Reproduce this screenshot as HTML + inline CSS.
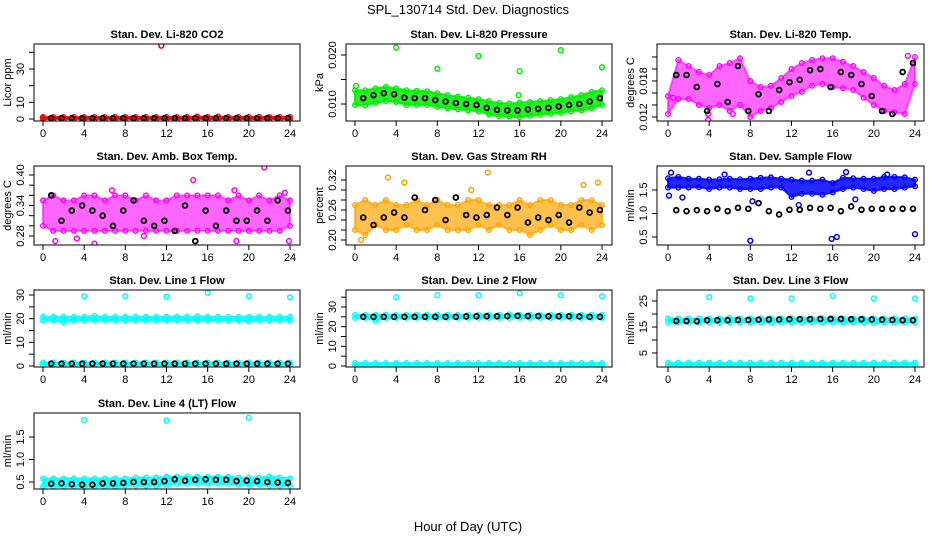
<!DOCTYPE html>
<html><head><meta charset="utf-8"><style>
body{margin:0;background:#fff;}
svg{display:block;font-family:"Liberation Sans",Arial,sans-serif;}
</style></head><body>
<svg id="c" width="936" height="540" viewBox="0 0 936 540">
<text x="468" y="14" font-size="13" text-anchor="middle">SPL_130714  Std. Dev. Diagnostics</text>
<text x="468" y="531" font-size="13" text-anchor="middle">Hour of Day (UTC)</text>
</svg>
<script>
const hrs=[0,1,2,3,4,5,6,7,8,9,10,11,12,13,14,15,16,17,18,19,20,21,22,23,24];
const xTicks=[0,4,8,12,16,20,24];
// P1 CO2
const co2Hi=[1.2,1.2,1.2,1.2,1.2,1.2,1.2,1.2,1.2,1.2,1.2,1.2,1.2,1.2,1.2,1.5,1.2,1.5,1.2,1.2,1.2,1.3,1.2,1.2,1.2];
const co2Lo=[0,0,0,0,0,0,0,0,0,0,0,0,0,0,0,0,0,0,0,0,0,0,0,0,0];
const co2Blk=[0.5,0.5,0.5,0.5,0.5,0.5,0.5,0.5,0.5,0.5,0.5,0.5,0.5,0.5,0.5,0.5,0.5,0.5,0.5,0.5,0.5,0.5,0.5,0.5,0.5];
const co2OutX=[11.5,0];const co2OutY=[44,0.8];
// P2 Pressure
const prHi=[0.0128,0.0128,0.0132,0.0135,0.0132,0.0128,0.0127,0.0126,0.0122,0.0118,0.0115,0.0113,0.0110,0.0106,0.0102,0.0101,0.0103,0.0104,0.0106,0.0108,0.0110,0.0114,0.0118,0.0125,0.0128];
const prLo=[0.0098,0.0097,0.0102,0.0106,0.0104,0.0098,0.0098,0.0098,0.0094,0.0091,0.0089,0.0087,0.0085,0.0079,0.0075,0.0074,0.0073,0.0076,0.0078,0.0080,0.0082,0.0085,0.0087,0.0091,0.0098];
const prBlk=[0.0115,0.0112,0.0118,0.0122,0.0120,0.0113,0.0112,0.0112,0.0108,0.0105,0.0102,0.0100,0.0098,0.0092,0.0088,0.0087,0.0087,0.0089,0.0090,0.0092,0.0095,0.0098,0.0100,0.0105,0.0112];
const prOutX=[0.1,4,8,12,16,15.9,20,24];const prOutY=[0.0137,0.0215,0.0172,0.0198,0.0167,0.0118,0.0210,0.0175];
// P3 Li-820 temp
const tHi=[0.0155,0.0215,0.0205,0.0195,0.0190,0.0205,0.0210,0.0218,0.0180,0.0170,0.0172,0.0185,0.0200,0.0210,0.0215,0.0218,0.0218,0.0212,0.0205,0.0195,0.0185,0.0172,0.0165,0.0175,0.0220];
const tLo=[0.0125,0.0150,0.0150,0.0140,0.0135,0.0140,0.0130,0.0140,0.0120,0.0130,0.0135,0.0145,0.0155,0.0162,0.0172,0.0175,0.0170,0.0168,0.0165,0.0152,0.0140,0.0130,0.0128,0.0125,0.0175];
const tBlk=[0.0178,0.0190,0.0190,0.0170,0.0130,0.0175,0.0145,0.0205,0.0130,0.0158,0.0130,0.0165,0.0178,0.0182,0.0198,0.0200,0.0170,0.0195,0.0190,0.0175,0.0155,0.0130,0.0125,0.0195,0.0210];
const tOutX=[3.9,3.9,21,0.5,6.3,23.3];const tOutY=[0.0115,0.0125,0.0130,0.0152,0.0125,0.0222];
// P4 Amb box temp
const aHi=[0.35,0.36,0.35,0.35,0.36,0.36,0.35,0.36,0.36,0.35,0.36,0.35,0.35,0.36,0.36,0.36,0.36,0.36,0.35,0.36,0.35,0.36,0.35,0.36,0.35];
const aLo=[0.30,0.29,0.29,0.29,0.29,0.29,0.29,0.29,0.29,0.29,0.29,0.29,0.29,0.29,0.29,0.29,0.29,0.29,0.29,0.29,0.29,0.29,0.29,0.29,0.30];
const aBlk=[0.27,0.36,0.31,0.33,0.34,0.33,0.32,0.30,0.33,0.35,0.31,0.30,0.31,0.29,0.34,0.27,0.33,0.30,0.33,0.31,0.31,0.33,0.31,0.35,0.33];
const aOutX=[1.2,3.3,5,6.7,14.6,18.6,21.5,23.5,23.9,18.8,9.8];const aOutY=[0.27,0.275,0.265,0.37,0.39,0.37,0.415,0.365,0.27,0.27,0.28];
// P5 RH
const rhHi=[0.27,0.28,0.27,0.28,0.27,0.27,0.28,0.27,0.28,0.27,0.27,0.28,0.28,0.27,0.27,0.27,0.28,0.27,0.28,0.28,0.27,0.27,0.28,0.28,0.27];
const rhLo=[0.22,0.21,0.23,0.22,0.22,0.23,0.22,0.22,0.23,0.22,0.22,0.22,0.23,0.22,0.23,0.22,0.22,0.21,0.22,0.23,0.22,0.22,0.23,0.22,0.23];
const rhBlk=[0.24,0.245,0.23,0.245,0.255,0.245,0.285,0.26,0.28,0.24,0.285,0.25,0.245,0.25,0.265,0.25,0.265,0.235,0.245,0.24,0.25,0.235,0.265,0.255,0.26];
const rhOutX=[3.2,4.8,12.9,11.3,22.2,23.6,0.6];const rhOutY=[0.325,0.315,0.335,0.30,0.31,0.315,0.20];
// P6 Sample flow
const sfHi=[1.75,1.78,1.74,1.74,1.72,1.73,1.74,1.73,1.74,1.76,1.77,1.74,1.72,1.70,1.70,1.72,1.65,1.76,1.75,1.74,1.74,1.78,1.78,1.77,1.72];
const sfLo=[1.55,1.55,1.55,1.56,1.52,1.55,1.55,1.52,1.52,1.52,1.55,1.55,1.35,1.42,1.42,1.40,1.45,1.52,1.55,1.52,1.48,1.52,1.52,1.55,1.58];
const sfBlk=[1.08,1.07,1.05,1.07,1.05,1.10,1.05,1.12,1.10,1.22,1.05,0.98,1.08,1.08,1.12,1.10,1.12,1.05,1.15,1.08,1.10,1.10,1.10,1.10,1.10];
const sfOutX=[0.1,0.3,1.4,5.5,8,8.2,12.7,13.7,15.9,16.4,17.3,18.2,24,21.3];const sfOutY=[1.38,1.87,1.34,1.83,0.42,1.26,1.18,1.87,0.46,0.50,1.88,1.30,0.56,1.83];
// P7 Line1
const l1Hi=[20.8,20.8,20.8,20.8,20.8,21.2,20.8,20.8,20.8,20.8,20.8,20.8,20.8,20.8,20.8,21,20.8,20.8,20.8,20.8,20.8,20.8,20.8,20.8,20.8];
const l1Lo=[19.2,19.2,18.5,19.2,19.2,19.2,19.2,19.2,19.2,19.2,19.2,19.2,19.2,19.2,19.2,19.2,19.2,19.2,19.2,19.2,18.8,19.2,19.2,19.2,19.2];
const l1LowHi=[1.5,1.5,1.5,1.5,1.5,1.5,1.5,1.5,1.5,1.5,1.5,1.5,1.5,1.5,1.5,1.5,1.5,1.5,1.5,1.5,1.5,1.5,1.5,1.5,1.5];
const l1LowLo=[0.5,0.5,0.5,0.5,0.5,0.5,0.5,0.5,0.5,0.5,0.5,0.5,0.5,0.5,0.5,0.5,0.5,0.5,0.5,0.5,0.5,0.5,0.5,0.5,0.5];
const l1Blk=[1,1,1,1,1,1,1,1,1,1,1,1,1,1,1,1,1,1,1,1,1,1,1,1,1];
const l1OutX=[4,8,12,16,20,24];const l1OutY=[29.5,29.5,29.3,31,29.5,29];
// P8 Line2
const l2Hi=[26,26,26,26,26,26,26,26,26,26,26,26,26,26,26,26.3,26,26,26,26,26,26,26,26,26];
const l2Lo=[24.5,24.5,23,24.5,24.5,24.5,24.5,24.5,24.5,24.5,24.5,24.5,24.5,24.5,24.5,24.5,24.5,24.5,24.5,24.5,24.5,24.5,24.5,24.5,24.5];
const l2LowHi=[1.5,1.5,1.5,1.5,1.5,1.5,1.5,1.5,1.5,1.5,1.5,1.5,1.5,1.5,1.5,1.5,1.5,1.5,1.5,1.5,1.5,1.5,1.5,1.5,1.5];
const l2LowLo=[0.3,0.3,0.3,0.3,0.3,0.3,0.3,0.3,0.3,0.3,0.3,0.3,0.3,0.3,0.3,0.3,0.3,0.3,0.3,0.3,0.3,0.3,0.3,0.3,0.3];
const l2Blk=[25,25,25,25,25,25,25,25,25,25,25,25.2,25.3,25.3,25.3,25.4,25.5,25.4,25.4,25.3,25.3,25.3,25.2,25,25];
const l2OutX=[4,8,12,16,20,24];const l2OutY=[35,36,36,37,36,35.5];
// P9 Line3
const l3Hi=[18.3,18.3,18.3,18.3,18.3,18.3,18.6,18.3,18.3,18.3,18.3,18.3,18.3,18.3,18.3,18.3,18.3,18.3,18.3,18.3,18.3,18.3,18.3,18.3,18.3];
const l3Lo=[16.8,16.8,16.8,16.8,16.8,16.8,16.8,16.8,16.8,16.8,16.8,16.8,16.8,16.8,16.8,16.8,16.8,16.8,16.8,16.8,16.5,16.8,16.8,16.8,16.8];
const l3LowHi=[1.3,1.3,1.3,1.3,1.3,1.3,1.3,1.3,1.3,1.3,1.3,1.3,1.3,1.3,1.3,1.3,1.3,1.3,1.3,1.3,1.3,1.3,1.3,1.3,1.3];
const l3LowLo=[0.3,0.3,0.3,0.3,0.3,0.3,0.3,0.3,0.3,0.3,0.3,0.3,0.3,0.3,0.3,0.3,0.3,0.3,0.3,0.3,0.3,0.3,0.3,0.3,0.3];
const l3Blk=[17.3,17.3,17.3,17.2,17.6,17.6,17.6,17.7,17.7,17.8,17.9,17.9,18,18,18,18.1,18.1,18.1,18,18,17.9,17.8,17.7,17.6,17.6];
const l3OutX=[4,8,12,16,20,24];const l3OutY=[26.5,26,26,27,26,26];
// P10 Line4
const l4Hi=[0.58,0.58,0.58,0.58,0.58,0.58,0.58,0.58,0.58,0.60,0.60,0.60,0.62,0.62,0.62,0.62,0.62,0.62,0.62,0.60,0.60,0.60,0.62,0.60,0.58];
const l4Lo=[0.40,0.40,0.40,0.40,0.40,0.40,0.40,0.40,0.42,0.42,0.42,0.42,0.44,0.46,0.46,0.46,0.46,0.46,0.46,0.44,0.44,0.44,0.42,0.42,0.42];
const l4Blk=[0.45,0.46,0.47,0.45,0.44,0.44,0.47,0.47,0.48,0.50,0.50,0.50,0.52,0.56,0.53,0.55,0.56,0.55,0.55,0.52,0.53,0.52,0.50,0.49,0.48];
const l4OutX=[4,12,20];const l4OutY=[1.88,1.87,1.93];

const NS="http://www.w3.org/2000/svg";
const svg=document.getElementById('c');
function mk(tag,attrs,parent){const e=document.createElementNS(NS,tag);for(const k in attrs)e.setAttribute(k,attrs[k]);(parent||svg).appendChild(e);return e;}
const cols=[{l:34,r:300,x0:43,x24:290},{l:346,r:612,x0:355,x24:602},{l:657,r:924,x0:668,x24:915}];
const rows=[{t:44,b:121},{t:166,b:245},{t:290,b:367},{t:413,b:489}];

function panel(o){
  const c=cols[o.col],rw=rows[o.row];
  const g=mk('g',{});
  
  
  const X=h=>c.x0+(h/24)*(c.x24-c.x0);
  const Y=v=>o.py0+(v-o.v0)/(o.v1-o.v0)*(o.py1-o.py0);
  const clipId='clip'+o.name;
  const cp=mk('clipPath',{id:clipId},g);mk('rect',{x:c.l,y:rw.t,width:c.r-c.l,height:rw.b-rw.t},cp);
  const data=mk('g',{'clip-path':'url(#'+clipId+')'},g);
  const op=o.op||0.85;
  function band(hi,lo,col,nm){
    let pts=hrs.map((h,i)=>X(h)+','+Y(hi[i]));
    for(let i=hrs.length-1;i>=0;i--)pts.push(X(hrs[i])+','+Y(lo[i]));
    const p=mk('polygon',{points:pts.join(' '),fill:col,'fill-opacity':op,stroke:col,'stroke-opacity':op,'stroke-width':2,'stroke-linejoin':'round'},data);
    
    
    hrs.forEach((h,i)=>{[hi[i],lo[i]].forEach(v=>{
      const e=mk('circle',{cx:X(h),cy:Y(v),r:2.3,fill:'none',stroke:col,'stroke-width':1.4},data);
      
      
    });});
  }
  function pts(xs,ys,col,nm,sw){
    xs.forEach((h,i)=>{
      const e=mk('circle',{cx:X(h),cy:Y(ys[i]),r:2.4,fill:'none',stroke:col,'stroke-width':sw},data);
      
      
    });
  }
  o.bands.forEach(b=>band(b[0],b[1],o.color,'colored'));
  pts(o.outX,o.outY,o.color,'outlier-point',1.5);
  pts(hrs.slice(1).map(h=>h-0.2),o.blk.slice(1),'#000','hourly-mean-point',1.8);
  const bx=mk('rect',{x:c.l,y:rw.t,width:c.r-c.l,height:rw.b-rw.t,fill:'none',stroke:'#000','stroke-width':1},g);
  
  
  xTicks.forEach(t=>{
    mk('line',{x1:X(t),x2:X(t),y1:rw.b,y2:rw.b+5,stroke:'#000'},g);
    const tx=mk('text',{x:X(t),y:rw.b+16,'font-size':11,'text-anchor':'middle'},g);
    tx.textContent=t;
    
    
  });
  o.yt.forEach(t=>{
    mk('line',{x1:c.l-5,x2:c.l,y1:Y(t),y2:Y(t),stroke:'#000'},g);
  });
  o.yl.forEach(t=>{
    const tx=mk('text',{x:0,y:0,'font-size':11,'text-anchor':'middle',transform:'translate('+(c.l-10)+','+Y(t)+') rotate(-90)'},g);
    tx.textContent=t;
    
    
  });
  const yt=mk('text',{x:0,y:0,'font-size':11,'text-anchor':'middle',transform:'translate('+(c.l-23)+','+((rw.t+rw.b)/2)+') rotate(-90)'},g);
  yt.textContent=o.ylab;
  
  
  const ti=mk('text',{x:(c.l+c.r)/2,y:rw.t-6,'font-size':11,'font-weight':'bold','text-anchor':'middle'},g);
  ti.textContent=o.title;
  
  
}

panel({name:'co2-panel',col:0,row:0,title:'Stan. Dev. Li-820 CO2',ylab:'Licor ppm',color:'#ff0000',v0:0,v1:30,py0:119,py1:69,yt:[0,10,20,30,40],yl:['0','10','30'],bands:[[co2Hi,co2Lo]],blk:co2Blk,outX:co2OutX,outY:co2OutY});
panel({name:'pressure-panel',col:1,row:0,title:'Stan. Dev. Li-820 Pressure',ylab:'kPa',color:'#00ee00',v0:0.010,v1:0.020,py0:104,py1:55,yt:[0.010,0.015,0.020],yl:['0.010','0.020'],bands:[[prHi,prLo]],blk:prBlk,outX:prOutX,outY:prOutY});
panel({name:'licor-temp-panel',col:2,row:0,title:'Stan. Dev. Li-820 Temp.',ylab:'degrees C',color:'#ff00ff',op:0.6,v0:0.012,v1:0.018,py0:117,py1:81,yt:[0.012,0.014,0.016,0.018,0.020,0.022],yl:['0.012','0.018'],bands:[[tHi,tLo]],blk:tBlk,outX:tOutX,outY:tOutY});
panel({name:'amb-box-temp-panel',col:0,row:1,title:'Stan. Dev. Amb. Box Temp.',ylab:'degrees C',color:'#ff00ff',op:0.6,v0:0.28,v1:0.40,py0:236,py1:175,yt:[0.28,0.30,0.32,0.34,0.36,0.38,0.40],yl:['0.28','0.34','0.40'],bands:[[aHi,aLo]],blk:aBlk,outX:aOutX,outY:aOutY});
panel({name:'gas-rh-panel',col:1,row:1,title:'Stan. Dev. Gas Stream RH',ylab:'percent',color:'#ffa500',op:0.7,v0:0.20,v1:0.32,py0:240,py1:180,yt:[0.20,0.22,0.24,0.26,0.28,0.30,0.32],yl:['0.20','0.26','0.32'],bands:[[rhHi,rhLo]],blk:rhBlk,outX:rhOutX,outY:rhOutY});
panel({name:'sample-flow-panel',col:2,row:1,title:'Stan. Dev. Sample Flow',ylab:'ml/min',color:'#0000ff',v0:0.5,v1:1.5,py0:237,py1:190,yt:[0.5,1.0,1.5],yl:['0.5','1.0','1.5'],bands:[[sfHi,sfLo]],blk:sfBlk,outX:sfOutX,outY:sfOutY});
panel({name:'line1-flow-panel',col:0,row:2,title:'Stan. Dev. Line 1 Flow',ylab:'ml/min',color:'#00ffff',v0:0,v1:30,py0:366,py1:295,yt:[0,5,10,15,20,25,30],yl:['0','10','20','30'],bands:[[l1Hi,l1Lo],[l1LowHi,l1LowLo]],blk:l1Blk,outX:l1OutX,outY:l1OutY});
panel({name:'line2-flow-panel',col:1,row:2,title:'Stan. Dev. Line 2 Flow',ylab:'ml/min',color:'#00ffff',v0:0,v1:30,py0:366,py1:307,yt:[0,5,10,15,20,25,30,35],yl:['0','10','20','30'],bands:[[l2Hi,l2Lo],[l2LowHi,l2LowLo]],blk:l2Blk,outX:l2OutX,outY:l2OutY});
panel({name:'line3-flow-panel',col:2,row:2,title:'Stan. Dev. Line 3 Flow',ylab:'ml/min',color:'#00ffff',v0:5,v1:25,py0:353,py1:301,yt:[5,10,15,20,25],yl:['5','15','25'],bands:[[l3Hi,l3Lo],[l3LowHi,l3LowLo]],blk:l3Blk,outX:l3OutX,outY:l3OutY});
panel({name:'line4-flow-panel',col:0,row:3,title:'Stan. Dev. Line 4 (LT) Flow',ylab:'ml/min',color:'#00ffff',v0:0.5,v1:1.5,py0:482,py1:437,yt:[0.5,1.0,1.5],yl:['0.5','1.0','1.5'],bands:[[l4Hi,l4Lo]],blk:l4Blk,outX:l4OutX,outY:l4OutY});
</script>
</body></html>
